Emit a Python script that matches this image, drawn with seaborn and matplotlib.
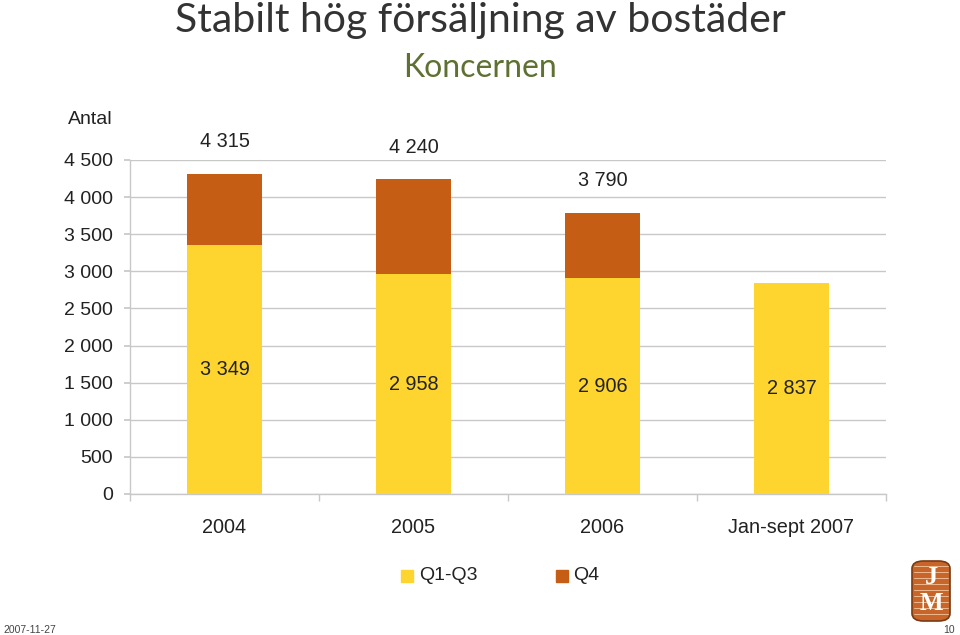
import numpy as np
import pandas as pd
import matplotlib
matplotlib.use('Agg')
import matplotlib.pyplot as plt
import seaborn as sns
from matplotlib.patches import FancyBboxPatch, Rectangle

# Data
years = ['2004', '2005', '2006', 'Jan-sept 2007']
q1_q3 = [3349, 2958, 2906, 2837]
totals = [4315, 4240, 3790, 2837]
total_labels = ['4 315', '4 240', '3 790', None]
inner_labels = ['3 349', '2 958', '2 906', '2 837']
yticks = [0, 500, 1000, 1500, 2000, 2500, 3000, 3500, 4000, 4500]

YELLOW = '#FDD52E'
ORANGE = '#C55E14'

sns.set_theme(style='white')
plt.rcParams['font.family'] = ['Liberation Sans', 'DejaVu Sans']

df = pd.DataFrame({'year': years, 'q1_q3': q1_q3, 'total': totals})

fig = plt.figure(figsize=(9.6, 6.35), dpi=100)
ax = fig.add_axes([130/960, 1 - 494/635, 756/960, 334/635])

# stacked: full total in orange, Q1-Q3 on top of it in yellow
sns.barplot(data=df, x='year', y='total', color=ORANGE, width=0.4,
            saturation=1, linewidth=0, ax=ax, zorder=3)
sns.barplot(data=df, x='year', y='q1_q3', color=YELLOW, width=0.4,
            saturation=1, linewidth=0, ax=ax, zorder=4)

ax.set_ylim(0, 4500)
ax.set_xlim(-0.5, 3.5)
ax.set_yticks(yticks)
ax.set_yticklabels([f'{v:,}'.replace(',', ' ') for v in yticks])
ax.yaxis.grid(True, color='#c8c8c8', linewidth=1, zorder=0)
ax.set_axisbelow(True)
ax.set_xlabel('')
ax.set_ylabel('')

for s in ['top', 'right']:
    ax.spines[s].set_visible(False)
for s in ['left', 'bottom']:
    ax.spines[s].set_color('#c8c8c8')
    ax.spines[s].set_linewidth(1)

ax.tick_params(axis='y', length=4, color='#c8c8c8', labelsize=14,
               labelcolor='#222222', pad=8.3, left=True, direction='out')
ax.tick_params(axis='x', length=0, labelsize=14.3, labelcolor='#222222', pad=17)
# minor ticks between the categories on the x axis
ax.set_xticks([-0.5, 0.5, 1.5, 2.5, 3.5], minor=True)
ax.tick_params(axis='x', which='minor', length=5, color='#c8c8c8', bottom=True)

# value labels
for i in range(len(years)):
    if total_labels[i]:
        ax.text(i, totals[i] + 430, total_labels[i], ha='center', va='center',
                fontsize=14.3, color='#222222', clip_on=False)
    ax.text(i, q1_q3[i] / 2, inner_labels[i], ha='center', va='center',
            fontsize=14.3, color='#222222', zorder=5)

fig.text(113/960, 1 - 119/635, 'Antal', ha='right', va='center',
         fontsize=14, color='#222222')

# titles
fig.text(0.5, 0.967, 'Stabilt hög försäljning av bostäder', ha='center', va='center',
         fontsize=29.5, color='#333333', family=['Lato', 'DejaVu Sans'])
fig.text(0.5, 0.893, 'Koncernen', ha='center', va='center',
         fontsize=23, color='#5E7032', family=['Lato', 'DejaVu Sans'])

# legend
fig.patches.append(Rectangle((401/960, 1 - 582/635), 12/960, 12/635,
                             transform=fig.transFigure, color=YELLOW))
fig.text(419/960, 1 - 576/635, 'Q1-Q3', ha='left', va='center', fontsize=14, color='#222222')
fig.patches.append(Rectangle((556/960, 1 - 582/635), 12/960, 12/635,
                             transform=fig.transFigure, color=ORANGE))
fig.text(573/960, 1 - 576/635, 'Q4', ha='left', va='center', fontsize=14, color='#222222')

# footer
fig.text(3/960, 1 - 630/635, '2007-11-27', ha='left', va='center', fontsize=7.5, color='#444444')
fig.text(955/960, 1 - 630/635, '10', ha='right', va='center', fontsize=7.5, color='#444444')

# JM logo (simple approximation)
logo = FancyBboxPatch((912/960, 1 - 621/635), 38/960, 60/635,
                      boxstyle='round,pad=0,rounding_size=0.012',
                      transform=fig.transFigure, facecolor='#C8652A',
                      edgecolor='#7A3A12', linewidth=1.2)
fig.patches.append(logo)
for yy in np.arange(566, 620, 6):
    fig.lines.append(plt.Line2D([914/960, 948/960], [1 - yy/635, 1 - yy/635],
                                transform=fig.transFigure, color='#F2C7A0', linewidth=0.6))
fig.text(931/960, 1 - 577/635, 'J', ha='center', va='center', fontsize=19,
         fontweight='bold', color='white', family=['Liberation Serif', 'DejaVu Serif'])
fig.text(931/960, 1 - 604/635, 'M', ha='center', va='center', fontsize=18,
         fontweight='bold', color='white', family=['Liberation Serif', 'DejaVu Serif'])

plt.savefig('out.png', dpi=100)
